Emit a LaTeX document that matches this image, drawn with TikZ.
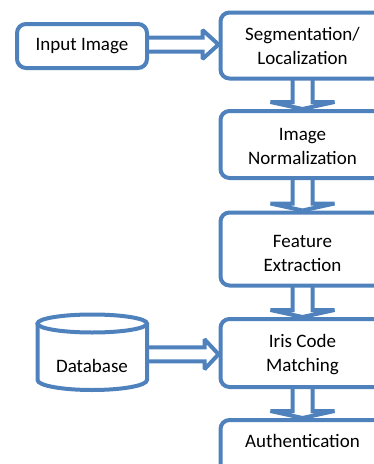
\documentclass[tikz,border=0pt]{standalone}
\usepackage{fontspec}
\setmainfont{Carlito}
\usetikzlibrary{calc}
\definecolor{obl}{RGB}{79,129,189}
\begin{document}
\begin{tikzpicture}[x=1pt,y=-1pt,
 box/.style={draw=obl, line width=4pt, rounded corners=9pt, fill=white, align=center, inner sep=0pt, outer sep=0pt, font=\fontsize{19}{24}\selectfont, text=black},
 barrow/.style={draw=obl, line width=4pt, line join=miter, miter limit=2},
 cyl/.style={draw=obl, line width=4pt},
 lbl/.style={font=\fontsize{19}{24}\selectfont, inner sep=0pt, outer sep=0pt, text=black, align=center}]
\useasboundingbox (0,0) rectangle (374,464);
\clip (0,0) rectangle (374,464);
% boxes
\node[box, minimum width=130pt, minimum height=44pt] (inp) at (82,46) {Input Image};
\node[box, minimum width=164pt, minimum height=66pt] (seg) at (302.5,45.5) {Segmentation/\\Localization};
\node[box, minimum width=164pt, minimum height=67pt] (norm) at (302.5,144.5) {};
\node[lbl] (normtext) at (302.5,146) {Image\\Normalization};
\node[box, minimum width=164pt, minimum height=73pt] (feat) at (302.5,249) {};
\node[lbl] (feattext) at (302.5,253) {Feature\\Extraction};
\node[box, minimum width=164pt, minimum height=68pt] (iris) at (302.5,353) {};
\node[lbl] (iristext) at (302.5,355) {Iris Code\\Matching};
\node[box, minimum width=164pt, minimum height=80pt] (auth) at (302.5,460) {};
\node[lbl] (authtext) at (302.5,441) {Authentication};
% database cylinder
\node[inner sep=0pt, outer sep=0pt, minimum width=109.5pt, minimum height=75.5pt] (db) at (92.25,352.25) {};
\draw[cyl] ($(db.north)+(0,9)$) ellipse [x radius=54.75, y radius=9];
\draw[cyl] ($(db.north west)+(0,9)$) -- ($(db.south west)+(0,-10)$)
  arc[start angle=180, end angle=0, x radius=54.75, y radius=10] -- ($(db.north east)+(0,9)$);
\node[lbl] (dbtext) at (92,366) {Database};
% horizontal arrows
\draw[barrow] ($(inp.east)+(0,-8.5)$) -- ($(inp.east -| seg.west)+(-18,-8.5)$)
  -- ($(inp.east -| seg.west)+(-18,-16)$) -- ($(inp.east -| seg.west)+(-2,-1.5)$)
  -- ($(inp.east -| seg.west)+(-18,13)$) -- ($(inp.east -| seg.west)+(-18,5.5)$)
  -- ($(inp.east)+(0,5.5)$);
\draw[barrow] ($(db.east)+(0,-5)$) -- ($(db.east -| iris.west)+(-16,-5)$)
  -- ($(db.east -| iris.west)+(-16,-13)$) -- ($(db.east -| iris.west)+(-2,2)$)
  -- ($(db.east -| iris.west)+(-16,17)$) -- ($(db.east -| iris.west)+(-16,9)$)
  -- ($(db.east)+(0,9)$);
% down arrows
\foreach \a/\b in {seg/norm, norm/feat, feat/iris, iris/auth}{
  \draw[barrow] ($(\a.south)+(-10,0)$) -- ($(\b.north)+(-10,-9)$)
    -- ($(\b.north)+(-32,-9)$) -- ($(\b.north)+(0,-2)$)
    -- ($(\b.north)+(32,-9)$) -- ($(\b.north)+(10,-9)$)
    -- ($(\a.south)+(10,0)$);
}
\end{tikzpicture}
\end{document}
